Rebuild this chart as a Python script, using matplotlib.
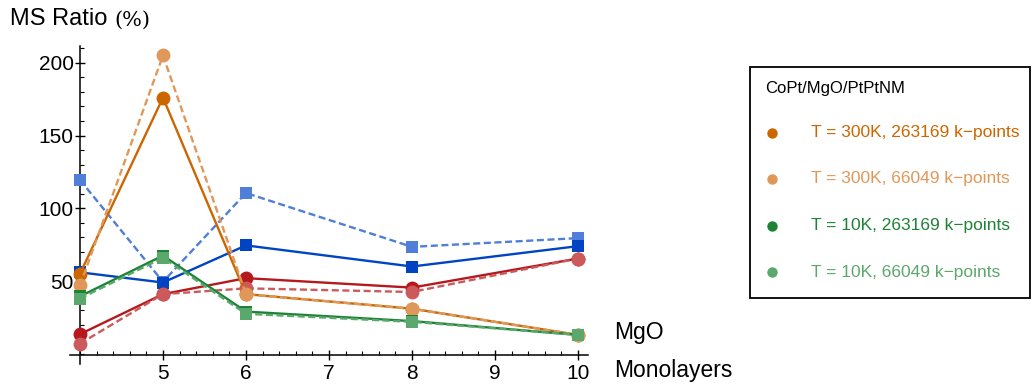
import matplotlib.pyplot as plt
from matplotlib.lines import Line2D
from matplotlib.patches import Rectangle
from matplotlib.ticker import MultipleLocator

# MgO monolayers
layers = [4, 5, 6, 8, 10]

# MS ratio (%) for each series
orange_300k_263k = [55, 176, 41, 31, 13]
orange_300k_66k = [47, 205, 41, 31, 13]
green_10k_263k = [39.5, 67.5, 29, 22.5, 13]
green_10k_66k = [38, 66, 27.5, 22, 13]
blue_solid = [56, 49, 74.5, 60, 74]
blue_dashed = [119.5, 49.5, 110.5, 73.5, 79.5]
red_solid = [13.5, 41, 52, 45.5, 65.5]
red_dashed = [7, 41, 45, 42.5, 65.5]

legend_title = 'CoPt/MgO/PtPtNM'
legend_labels = ['T = 300K, 263169 k\u2212points', 'T = 300K, 66049 k\u2212points',
                 'T = 10K, 263169 k\u2212points', 'T = 10K, 66049 k\u2212points']

c_orange = '#cc6600'
c_orange_l = '#e0985a'
c_green = '#1e8236'
c_green_l = '#5ba86c'
c_blue = '#0044c4'
c_blue_l = '#4f7fd8'
c_red = '#b5191e'
c_red_l = '#cc5a5c'

plt.rcParams['font.family'] = ['Liberation Sans', 'DejaVu Sans']

W, H = 1034, 391
fig = plt.figure(figsize=(W / 100, H / 100), dpi=100)
ax = fig.add_axes([70 / W, 36 / H, 518 / W, 309 / H])

dash = (0, (3, 1.5))
series = [
    (blue_dashed, c_blue_l, dash, 's'),
    (blue_solid, c_blue, '-', 's'),
    (red_solid, c_red, '-', 'o'),
    (red_dashed, c_red_l, dash, 'o'),
    (orange_300k_263k, c_orange, '-', 'o'),
    (orange_300k_66k, c_orange_l, dash, 'o'),
    (green_10k_263k, c_green, '-', 's'),
    (green_10k_66k, c_green_l, dash, 's'),
]
for vals, col, ls, mk in series:
    ms = 10 if mk == 'o' else 9.2
    ax.plot(layers, vals, color=col, linestyle=ls, lw=1.7, marker=mk,
            markersize=ms, markeredgewidth=0, clip_on=False, zorder=3)

ax.set_xlim(3.88, 10.12)
ax.set_ylim(-0.8, 211.5)
ax.xaxis.set_minor_locator(MultipleLocator(0.2))
ax.yaxis.set_minor_locator(MultipleLocator(10))
ax.set_xticks([5, 6, 7, 8, 9, 10])
ax.set_yticks([50, 100, 150, 200])
ax.tick_params(axis='both', which='major', labelsize=15, direction='inout',
               length=7, width=1)
ax.tick_params(axis='both', which='minor', direction='in', length=3, width=0.8)
ax.tick_params(axis='x', pad=3)
ax.tick_params(axis='y', pad=1)
for s in ['top', 'right']:
    ax.spines[s].set_visible(False)
for s in ['left', 'bottom']:
    ax.spines[s].set_linewidth(1.1)
ax.spines['left'].set_position(('data', 4))
ax.spines['left'].set_bounds(-7, 211.5)
ax.patch.set_alpha(0)

fig.text(10 / W, 1 - 19 / H, 'MS Ratio', fontsize=17, va='center', ha='left')
fig.text(114 / W, 1 - 20 / H, '(%)', fontsize=15, va='center', ha='left',
         family=['DejaVu Serif'])
fig.text(614 / W, 1 - 333 / H, 'MgO', fontsize=16.5, va='center', ha='left')
fig.text(614 / W, 1 - 370 / H, 'Monolayers', fontsize=16.5, va='center', ha='left')

# legend box
fig.patches.append(Rectangle((750 / W, 1 - 298 / H), 280 / W, 231 / H,
                             transform=fig.transFigure, facecolor='white',
                             edgecolor='black', linewidth=1.3))
fig.text(765 / W, 1 - 89 / H, legend_title, fontsize=12, va='center', ha='left')
leg_colors = [c_orange, c_orange_l, c_green, c_green_l]
leg_y = [133, 179, 226, 272]
for lab, col, yy in zip(legend_labels, leg_colors, leg_y):
    fig.lines.append(Line2D([772 / W], [1 - yy / H], transform=fig.transFigure,
                            marker='o', markersize=7.5, color=col,
                            markeredgewidth=0, linestyle='none'))
    fig.text(811 / W, 1 - yy / H, lab, fontsize=12.5, color=col,
             va='center', ha='left')

fig.savefig('out.png', dpi=100)
